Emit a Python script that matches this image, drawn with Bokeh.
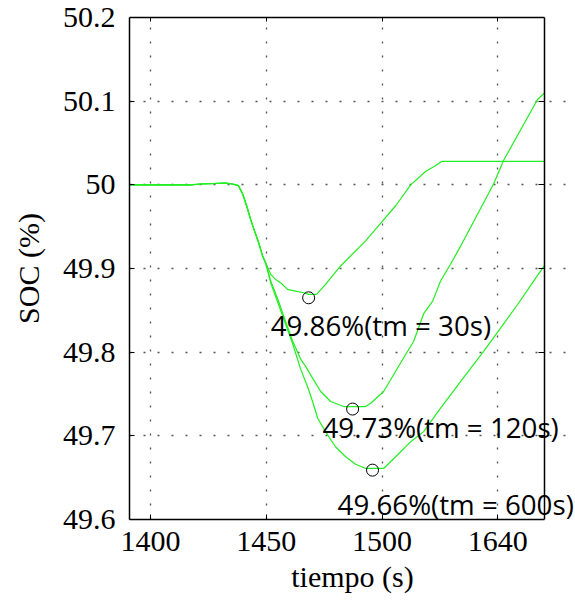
from bokeh.plotting import figure
from bokeh.models import FixedTicker, LinearAxis, Range1d, Label
from bokeh.embed import file_html
from bokeh.resources import INLINE

# ---- data ----
x_ticks = [1400, 1450, 1500, 1550]
x_tick_labels = ["1400", "1450", "1500", "1640"]
y_ticks = [49.6, 49.7, 49.8, 49.9, 50.0, 50.1, 50.2]
y_tick_labels = ["49.6", "49.7", "49.8", "49.9", "50", "50.1", "50.2"]

t_start, t_end = 1390.9, 1570.3

common_t = [1390.9, 1417.3, 1421.6, 1432.4, 1435.4, 1438.0, 1439.8, 1441.5,
            1443.2, 1444.9, 1446.7, 1448.4, 1449.7]
common_soc = [50.0, 50.0, 50.001, 50.002, 50.001, 49.999, 49.989, 49.975,
              49.959, 49.945, 49.931, 49.915, 49.907]

t_30 = [1451.9, 1454.0, 1456.2, 1459.2, 1462.7, 1466.1, 1468.3, 1471.7,
        1475.6, 1482.1, 1492.9, 1499.4, 1505.9, 1512.4, 1518.8, 1523.2,
        1525.8, 1570.3]
soc_30 = [49.893, 49.887, 49.883, 49.875, 49.873, 49.871, 49.869, 49.869,
          49.881, 49.903, 49.933, 49.954, 49.975, 50.000, 50.016, 50.023,
          50.028, 50.028]

t_120 = [1451.9, 1455.3, 1458.3, 1461.4, 1464.8, 1467.0, 1470.0, 1473.5,
         1477.8, 1483.4, 1492.9, 1495.1, 1500.7, 1509.3, 1513.7, 1518.0,
         1521.9, 1525.3, 1529.6, 1534.0, 1548.2, 1552.5, 1567.2, 1570.3]
soc_120 = [49.885, 49.861, 49.837, 49.813, 49.792, 49.783, 49.769, 49.753,
           49.741, 49.735, 49.735, 49.739, 49.753, 49.793, 49.813, 49.846,
           49.861, 49.885, 49.905, 49.927, 50.001, 50.029, 50.102, 50.110]

t_600 = [1451.9, 1455.3, 1458.3, 1461.4, 1464.8, 1467.8, 1470.0, 1472.2,
         1475.6, 1479.9, 1484.3, 1488.6, 1492.9, 1500.7, 1505.9, 1512.4,
         1518.0, 1525.3, 1534.0, 1543.9, 1551.3, 1558.6, 1565.5, 1570.3]
soc_600 = [49.883, 49.857, 49.834, 49.810, 49.780, 49.759, 49.741, 49.721,
           49.705, 49.687, 49.675, 49.666, 49.661, 49.661, 49.675, 49.693,
           49.705, 49.733, 49.765, 49.801, 49.829, 49.857, 49.885, 49.904]

min_t = [1468.3, 1487.3, 1495.9]
min_soc = [49.865, 49.732, 49.659]

note_x = [1451.9, 1474.3, 1480.8]
note_y = [49.833, 49.710, 49.618]
note_text = ["49.86%(tm = 30s)", "49.73%(tm = 120s)", "49.66%(tm = 600s)"]

# ---- figure ----
# the frame runs to the window edge so the notes can overflow the box;
# the visible box ends at t_end (drawn by a fixed-location right axis)
p = figure(width=575, height=602, output_backend="svg", toolbar_location=None,
           x_range=Range1d(t_start, 1583.6), y_range=Range1d(49.6, 50.2),
           min_border_left=129, min_border_right=0, min_border_top=17,
           min_border_bottom=83)
p.background_fill_color = "white"
p.border_fill_color = "white"
p.outline_line_color = None

serif = "Liberation Serif"

for ax in p.xaxis:
    ax.ticker = FixedTicker(ticks=x_ticks)
    ax.major_label_overrides = {t: l for t, l in zip(x_ticks, x_tick_labels)}
    ax.bounds = (t_start, t_end)
for ax in p.yaxis:
    ax.ticker = FixedTicker(ticks=y_ticks)
    ax.major_label_overrides = {t: l for t, l in zip(y_ticks, y_tick_labels)}

for ax in list(p.xaxis) + list(p.yaxis):
    ax.major_label_text_font = serif
    ax.major_label_text_font_size = "30px"
    ax.major_label_text_color = "black"
    ax.axis_label_text_font = serif
    ax.axis_label_text_font_size = "30px"
    ax.axis_label_text_font_style = "normal"
    ax.axis_label_text_color = "black"
    ax.axis_line_color = "black"
    ax.axis_line_width = 1.5
    ax.major_tick_in = 5
    ax.major_tick_out = 0
    ax.major_tick_line_color = "black"
    ax.minor_tick_line_color = None

p.xaxis.axis_label = "tiempo (s)"
p.yaxis.axis_label = "SOC (%)"
p.xaxis.major_label_standoff = 12
p.xaxis.axis_label_standoff = 6
p.yaxis.major_label_standoff = 14
p.yaxis.axis_label_standoff = 15

# mirrored axes (ticks only)
top = LinearAxis(ticker=FixedTicker(ticks=x_ticks), major_label_text_color=None,
                 major_tick_in=4, major_tick_out=0, minor_tick_line_color=None,
                 axis_line_color="black", axis_line_width=1.5,
                 bounds=(t_start, t_end))
right = LinearAxis(ticker=FixedTicker(ticks=y_ticks), major_label_text_color=None,
                   major_tick_in=6, major_tick_out=0, minor_tick_line_color=None,
                   axis_line_color="black", axis_line_width=1.5,
                   fixed_location=t_end)
p.add_layout(top, "above")
p.add_layout(right, "right")

for g in list(p.xgrid) + list(p.ygrid):
    g.grid_line_color = "#555555"
    g.grid_line_dash = "2 12"
    g.grid_line_width = 1.3
for g in p.ygrid:
    g.bounds = (t_start, t_end)

green = "#22ee22"
for t, s in [(t_30, soc_30), (t_120, soc_120), (t_600, soc_600)]:
    p.line(common_t + t, common_soc + s, line_color=green, line_width=1.2)

p.scatter(min_t, min_soc, marker="circle", size=12, fill_color=None,
          line_color="black", line_width=1)

for x, y, txt in zip(note_x, note_y, note_text):
    p.add_layout(Label(x=x, y=y, text=txt, text_font="Open Sans",
                       text_font_size="27.7px", text_color="black",
                       text_baseline="alphabetic", text_align="left"))

open("out.html", "w").write(file_html(p, INLINE))
